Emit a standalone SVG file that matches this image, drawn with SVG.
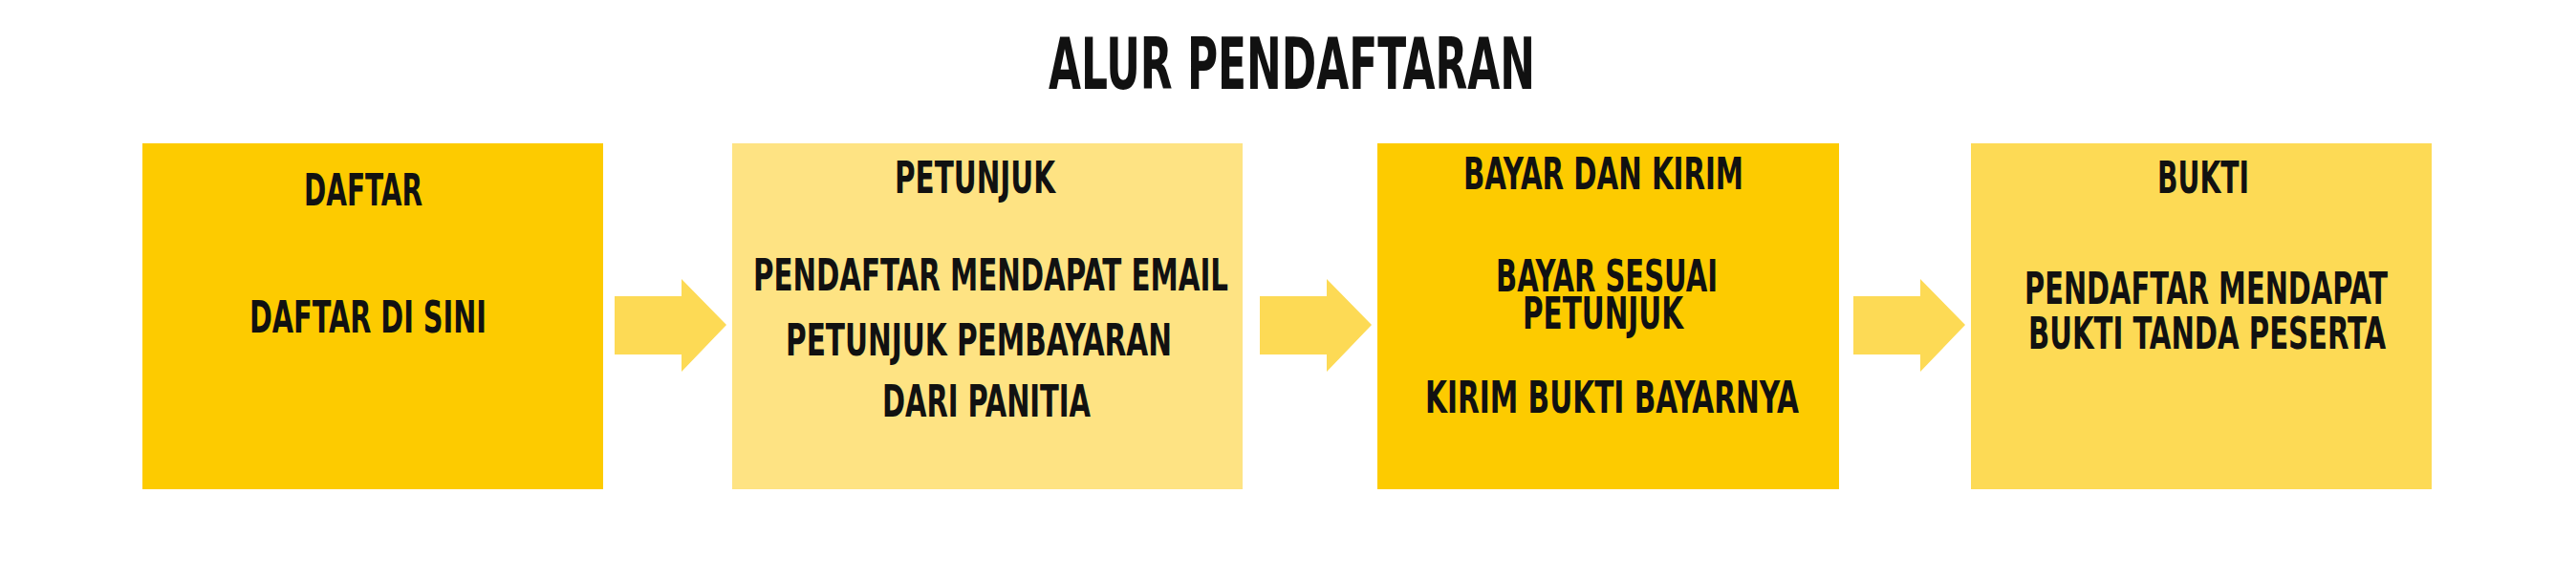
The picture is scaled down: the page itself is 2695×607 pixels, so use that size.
<svg xmlns="http://www.w3.org/2000/svg" width="2695" height="607" viewBox="0 0 2695 607">
<style>
text{font-family:"DejaVu Sans Condensed","DejaVu Sans","Liberation Sans",sans-serif;font-weight:bold;fill:#111111}
.t{font-size:47px}
.title{font-size:75px}
.gold{fill:#FDCB00}
.pale{fill:#FEE383}
.mid{fill:#FDDA55}
.arrow{fill:#FDDA55}
</style>
<rect width="2695" height="607" fill="#FFFFFF"/>
<text class="title" x="1097" y="93" textLength="509" lengthAdjust="spacingAndGlyphs">ALUR PENDAFTARAN</text>
<g id="node-daftar">
<rect class="gold" x="149" y="150" width="482" height="362"/>
<text class="t" x="318" y="215" textLength="124" lengthAdjust="spacingAndGlyphs">DAFTAR</text>
<text class="t" x="261" y="348" textLength="248" lengthAdjust="spacingAndGlyphs">DAFTAR DI SINI</text>
</g>
<g id="node-petunjuk">
<rect class="pale" x="766" y="150" width="534" height="362"/>
<text class="t" x="936" y="202" textLength="168" lengthAdjust="spacingAndGlyphs">PETUNJUK</text>
<text class="t" x="788" y="304" textLength="497" lengthAdjust="spacingAndGlyphs">PENDAFTAR MENDAPAT EMAIL</text>
<text class="t" x="822" y="372" textLength="404" lengthAdjust="spacingAndGlyphs">PETUNJUK PEMBAYARAN</text>
<text class="t" x="923" y="436" textLength="218" lengthAdjust="spacingAndGlyphs">DARI PANITIA</text>
</g>
<g id="node-bayar">
<rect class="gold" x="1441" y="150" width="483" height="362"/>
<text class="t" x="1531" y="198" textLength="293" lengthAdjust="spacingAndGlyphs">BAYAR DAN KIRIM</text>
<text class="t" x="1565" y="305" textLength="232" lengthAdjust="spacingAndGlyphs">BAYAR SESUAI</text>
<text class="t" x="1593" y="344" textLength="168" lengthAdjust="spacingAndGlyphs">PETUNJUK</text>
<text class="t" x="1491" y="432" textLength="391" lengthAdjust="spacingAndGlyphs">KIRIM BUKTI BAYARNYA</text>
</g>
<g id="node-bukti">
<rect class="mid" x="2062" y="150" width="482" height="362"/>
<text class="t" x="2257" y="202" textLength="96" lengthAdjust="spacingAndGlyphs">BUKTI</text>
<text class="t" x="2118" y="318" textLength="380" lengthAdjust="spacingAndGlyphs">PENDAFTAR MENDAPAT</text>
<text class="t" x="2122" y="365" textLength="374" lengthAdjust="spacingAndGlyphs">BUKTI TANDA PESERTA</text>
</g>
<g id="connectors">
<path class="arrow" d="M643 310H713V292L760 340L713 389V371H643Z"/>
<path class="arrow" d="M1318 310H1388V292L1435 340L1388 389V371H1318Z"/>
<path class="arrow" d="M1939 310H2009V292L2056 340L2009 389V371H1939Z"/>
</g>
</svg>
